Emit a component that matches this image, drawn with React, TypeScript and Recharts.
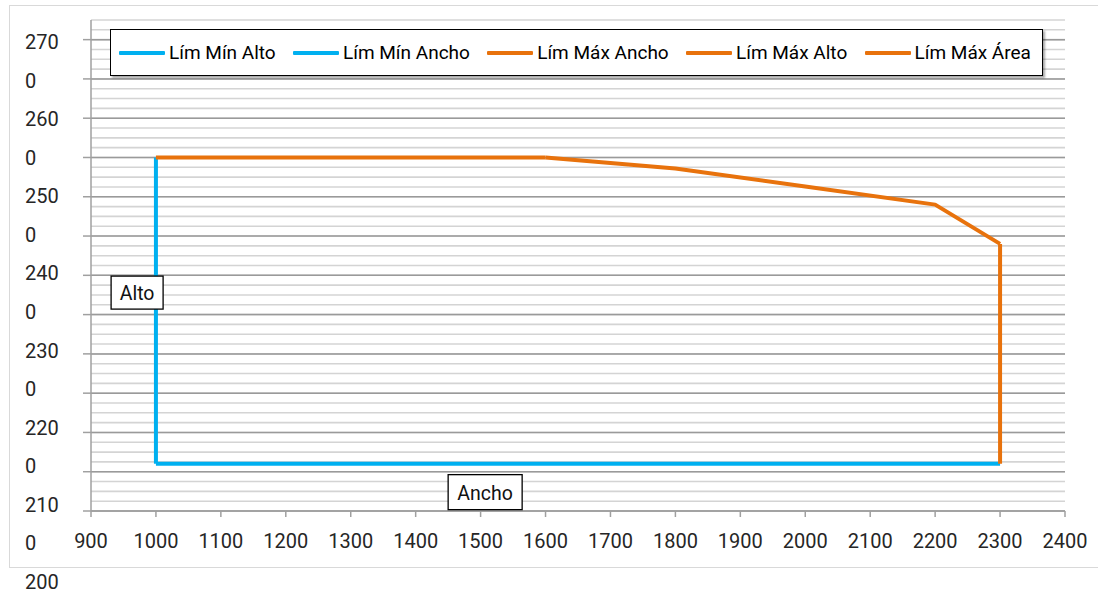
import React from 'react';
import { LineChart, Line, XAxis, YAxis, ReferenceLine, ReferenceDot } from 'recharts';

const BLUE = '#00B0F0';
const ORANGE = '#E8720C';

const X_TICKS = [900, 1000, 1100, 1200, 1300, 1400, 1500, 1600, 1700, 1800, 1900, 2000, 2100, 2200, 2300, 2400];
const Y_MAJOR = [2700, 2650, 2600, 2550, 2500, 2450, 2400, 2350, 2300, 2250, 2200, 2150, 2100];
const Y_TICK_LABELS = ['270', '0', '260', '0', '250', '0', '240', '0', '230', '0', '220', '0', '210', '0', '200'];
const Y_MINOR_STEP = 12.5;

const MIN_ALTO_X = [1000, 2300];
const MIN_ALTO_Y = [2160, 2160];
const MIN_ANCHO_X = [1000, 1000];
const MIN_ANCHO_Y = [2160, 2550];
const MAX_ANCHO_X = [2300, 2300];
const MAX_ANCHO_Y = [2160, 2440];
const MAX_ALTO_X = [1000, 1600];
const MAX_ALTO_Y = [2550, 2550];
const MAX_AREA_X = [1600, 1800, 2000, 2200, 2300];
const MAX_AREA_Y = [2550, 2536, 2513, 2490, 2440];

const zip = (xs: number[], ys: number[]) => xs.map((x, i) => ({ x, y: ys[i] }));

const SERIES = [
  { name: 'Lím Mín Alto', color: BLUE, data: zip(MIN_ALTO_X, MIN_ALTO_Y) },
  { name: 'Lím Mín Ancho', color: BLUE, data: zip(MIN_ANCHO_X, MIN_ANCHO_Y) },
  { name: 'Lím Máx Ancho', color: ORANGE, data: zip(MAX_ANCHO_X, MAX_ANCHO_Y) },
  { name: 'Lím Máx Alto', color: ORANGE, data: zip(MAX_ALTO_X, MAX_ALTO_Y) },
  { name: 'Lím Máx Área', color: ORANGE, data: zip(MAX_AREA_X, MAX_AREA_Y) },
];

const Y_MIN = 2100;
const Y_MAX = 2725;
const Y_MINOR: number[] = [];
for (let v = Y_MIN; v <= Y_MAX + 0.001; v += Y_MINOR_STEP) Y_MINOR.push(v);

const FONT = 'Roboto, "Open Sans", sans-serif';
const TEXT = '#262626';

const XTick = (props: any) => {
  const { x, y, payload } = props;
  return (
    <text x={x} y={y + 22} textAnchor="middle" dominantBaseline="central" fontSize={20} fontFamily={FONT} fill={TEXT}>
      {payload.value}
    </text>
  );
};

const YTick = (props: any) => {
  const { y, payload } = props;
  const i = Y_MAJOR.indexOf(payload.value);
  const lines: number[] = [i];
  if (i === Y_MAJOR.length - 1) {
    for (let j = i + 1; j < Y_TICK_LABELS.length; j++) lines.push(j);
  }
  const top = y - i * 39.28 + 2.5;
  return (
    <g>
      {lines.map((j) => (
        <text key={j} x={25} y={top + j * 38.55} textAnchor="start" dominantBaseline="central" fontSize={20} fontFamily={FONT} fill={TEXT}>
          {Y_TICK_LABELS[j]}
        </text>
      ))}
    </g>
  );
};

const boxLabel = (text: string, w: number, h: number) => (p: any) => (
  <g>
    <rect x={p.cx - w / 2} y={p.cy - h / 2} width={w} height={h} fill="#fff" stroke="#000" strokeWidth={1.3} />
    <text x={p.cx} y={p.cy + 1} textAnchor="middle" dominantBaseline="central" fontSize={19.5} fontFamily={FONT} fill="#111">
      {text}
    </text>
  </g>
);

export default function App() {
  return (
    <div style={{ position: 'absolute', left: 0, top: 0, width: 1098, height: 592, overflow: 'hidden', background: '#fff', fontFamily: FONT }}>
      <div style={{ position: 'absolute', left: 9, top: 5, width: 1100, height: 563, border: '1.5px solid #d9d9d9', boxSizing: 'border-box' }} />
      <div style={{ position: 'absolute', left: 0, top: 0 }}>
        <LineChart width={1098} height={592} margin={{ top: 20, right: 33, bottom: 51, left: 0 }}>
          {Y_MINOR.map((v) => (
            <ReferenceLine key={'m' + v} y={v} stroke="#d4d4d4" strokeWidth={1.6} ifOverflow="extendDomain" />
          ))}
          {Y_MAJOR.map((v) => (
            <ReferenceLine key={'M' + v} y={v} stroke="#9a9a9a" strokeWidth={1.5} />
          ))}
          <XAxis
            type="number"
            dataKey="x"
            domain={[900, 2400]}
            ticks={X_TICKS}
            allowDataOverflow
            interval={0}
            height={30}
            tickSize={6}
            axisLine={{ stroke: '#a0a0a0', strokeWidth: 1.5 }}
            tickLine={{ stroke: '#a0a0a0', strokeWidth: 1.5 }}
            tick={<XTick />}
          />
          <YAxis
            type="number"
            dataKey="y"
            domain={[Y_MIN, Y_MAX]}
            ticks={Y_MAJOR}
            allowDataOverflow
            interval={0}
            width={91}
            tickSize={8}
            axisLine={{ stroke: '#a0a0a0', strokeWidth: 1.5 }}
            tickLine={{ stroke: '#a0a0a0', strokeWidth: 1.5 }}
            tick={<YTick />}
          />
          {SERIES.map((s) => (
            <Line
              key={s.name}
              name={s.name}
              data={s.data}
              dataKey="y"
              type="linear"
              stroke={s.color}
              strokeWidth={4}
              strokeLinejoin="round"
              dot={false}
              activeDot={false}
              isAnimationActive={false}
            />
          ))}
          <ReferenceDot x={971} y={2378} r={0} shape={boxLabel('Alto', 52, 33)} />
          <ReferenceDot x={1507} y={2124} r={0} shape={boxLabel('Ancho', 74, 35)} />
        </LineChart>
      </div>
      <div
        style={{
          position: 'absolute',
          left: 110,
          top: 29,
          width: 933,
          height: 47,
          boxSizing: 'border-box',
          border: '1.5px solid #000',
          background: '#fff',
          boxShadow: '2px 2px 2px rgba(0,0,0,0.35)',
          display: 'flex',
          alignItems: 'center',
          justifyContent: 'space-between',
          padding: '0 11px 0 8px',
        }}
      >
        {SERIES.map((s) => (
          <div key={s.name} style={{ display: 'flex', alignItems: 'center' }}>
            <div style={{ width: 46, height: 4, background: s.color, borderRadius: 1, marginRight: 4 }} />
            <span style={{ fontSize: 19, color: '#000', fontFamily: FONT, whiteSpace: 'nowrap' }}>{s.name}</span>
          </div>
        ))}
      </div>
    </div>
  );
}
